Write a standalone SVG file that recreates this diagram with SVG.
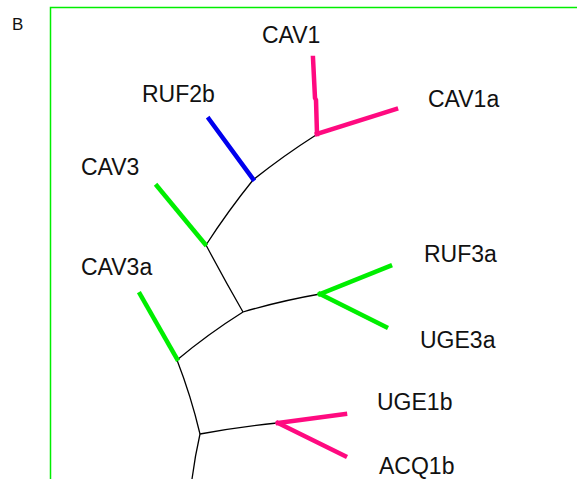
<svg xmlns="http://www.w3.org/2000/svg" width="577" height="479" viewBox="0 0 577 479">
<style>
text{font-family:"Liberation Sans",Arial,sans-serif;font-size:23px;fill:#111}
.b{fill:none;stroke:#000;stroke-width:1.3}
.pk{fill:none;stroke:#ff0a80;stroke-width:4.5;stroke-linecap:square;stroke-linejoin:miter}
.gr{fill:none;stroke:#00ee00;stroke-width:4.5;stroke-linecap:square}
.bl{fill:none;stroke:#0000ee;stroke-width:4.5;stroke-linecap:square}
</style>
<rect x="0" y="0" width="577" height="479" fill="#fff"/>
<g id="frame">
<path d="M50.5 479 V7.5 H577" fill="none" stroke="#00ee00" stroke-width="1.5"/>
<text x="12" y="30" style="font-size:17px">B</text>
</g>
<g id="connectors">
<path class="b" d="M316 135 Q283 156 253 180"/>
<path class="b" d="M253 180 Q228 211 206 245"/>
<path class="b" d="M206 245 Q224 279 243 312"/>
<path class="b" d="M243 312 Q280 301 320 294"/>
<path class="b" d="M243 312 Q208 334 177 360"/>
<path class="b" d="M177 360 Q191 396 200 434"/>
<path class="b" d="M200 434 Q238 427 277 423"/>
<path class="b" d="M200 434 Q195 456 192 479"/>
</g>
<g id="CAV1">
<path class="pk" d="M313 58 L315 98 L316 100 L317 134"/>
<text x="262" y="43">CAV1</text>
</g>
<g id="CAV1a">
<path class="pk" d="M317 134 L396 109"/>
<text x="428" y="107">CAV1a</text>
</g>
<g id="RUF2b">
<path class="bl" d="M209 119 L253 179"/>
<text x="142" y="102">RUF2b</text>
</g>
<g id="CAV3">
<path class="gr" d="M157 186 L205 244"/>
<text x="81" y="175">CAV3</text>
</g>
<g id="RUF3a">
<path class="gr" d="M320 294 L390 266"/>
<text x="424" y="262">RUF3a</text>
</g>
<g id="UGE3a">
<path class="gr" d="M320 294 L386 327"/>
<text x="420" y="348">UGE3a</text>
</g>
<g id="CAV3a">
<path class="gr" d="M140 294 L177 359"/>
<text x="81" y="275">CAV3a</text>
</g>
<g id="UGE1b">
<path class="pk" d="M278 423 L345 414"/>
<text x="377" y="410">UGE1b</text>
</g>
<g id="ACQ1b">
<path class="pk" d="M278 423 L345 456"/>
<text x="379" y="474">ACQ1b</text>
</g>
</svg>
